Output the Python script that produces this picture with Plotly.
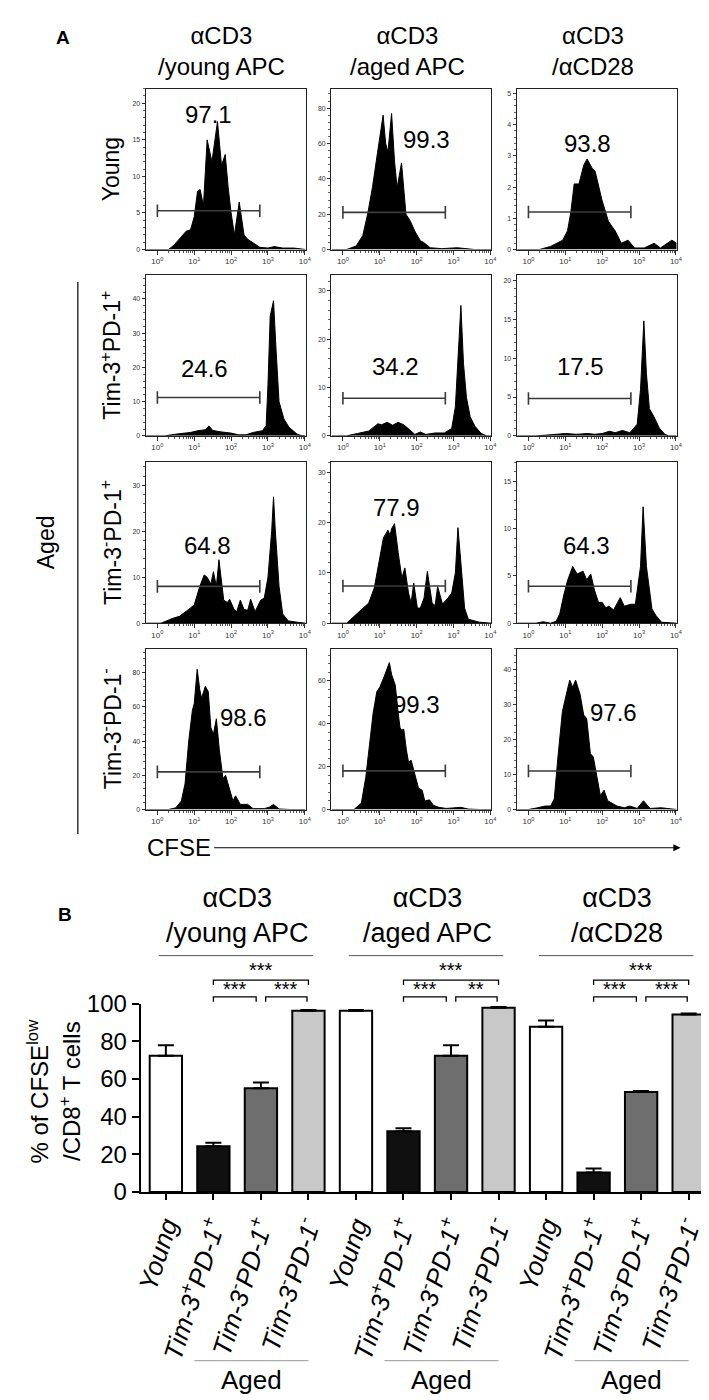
import plotly.graph_objects as go

W, H = 709, 1400
FONT = "Liberation Sans, Arial, sans-serif"


def px(x):
    return x / W


def py(y):
    return 1 - y / H


# ---------------- Panel A data ----------------
col_titles = ["αCD3<br>/young APC", "αCD3<br>/aged APC", "αCD3<br>/αCD28"]
row_titles = ["Young", "Tim-3<sup>+</sup>PD-1<sup>+</sup>",
              "Tim-3<sup>-</sup>PD-1<sup>+</sup>", "Tim-3<sup>-</sup>PD-1<sup>-</sup>"]

# log10(CFSE) positions and counts of each histogram (row, column)
h11_logx = [-0.3, 0.3, 0.45, 0.6, 0.78, 0.9, 1.0, 1.09, 1.16, 1.25, 1.35, 1.48, 1.63, 1.74, 1.84, 1.92,
            2.0, 2.09, 2.22, 2.35, 2.45, 2.57, 2.78, 3.0, 3.17, 3.4, 3.7, 4.02]
h11_count = [0, 0, 0.6, 1.5, 2.5, 2.7, 4.5, 8.0, 8.2, 6.0, 15.0, 12.0, 17.5, 11.5, 13.0, 8.5,
             5.0, 2.0, 6.5, 2.0, 1.4, 1.0, 0.3, 0.2, 0.4, 0.2, 0.2, 0]
h12_logx = [-0.3, 0.1, 0.36, 0.54, 0.67, 0.8, 0.94, 1.09, 1.16, 1.22, 1.32, 1.40, 1.47, 1.59, 1.71, 1.83,
            1.96, 2.1, 2.19, 2.37, 2.68, 3.1, 3.57, 4.02]
h12_count = [0, 0, 2, 8, 20, 35, 55, 76, 60, 55, 77, 50, 35, 49, 20, 16, 10, 5, 4, 1, 0.5, 1, 0, 0]
h13_logx = [-0.3, 0.3, 0.6, 0.93, 1.06, 1.15, 1.24, 1.37, 1.5, 1.59, 1.73, 1.81, 1.99, 2.17, 2.35, 2.52,
            2.7, 2.88, 3.14, 3.41, 3.58, 3.89, 4.02]
h13_count = [0, 0, 0.1, 0.3, 0.6, 1.2, 2.1, 2.1, 2.7, 2.9, 2.6, 2.5, 1.6, 0.9, 0.6, 0.2, 0.3, 0.05,
             0.05, 0.2, 0.05, 0.3, 0.2]

h21_logx = [-0.3, 0.2, 0.5, 0.9, 1.1, 1.3, 1.4, 1.5, 1.7, 2.0, 2.2, 2.4, 2.6, 2.85, 2.95, 3.0, 3.06, 3.15,
            3.22, 3.3, 3.43, 3.57, 3.79, 3.9, 4.02]
h21_count = [0, 0, 0.5, 1.0, 1.5, 1.8, 2.9, 1.6, 1.2, 0.8, 0.3, 0.3, 1.0, 1.5, 3.0, 15, 35, 39.5,
             25, 10, 5, 2.5, 0.5, 0.1, 0]
h22_logx = [-0.3, 0.1, 0.4, 0.7, 0.95, 1.05, 1.2, 1.35, 1.5, 1.65, 1.85, 1.95, 2.1, 2.25, 2.5, 2.75,
            2.95, 3.05, 3.15, 3.2, 3.27, 3.35, 3.45, 3.58, 3.75, 3.9, 4.02]
h22_count = [0, 0, 0.5, 1.0, 2.5, 2.3, 2.8, 2.2, 2.8, 2.3, 1.0, 0.3, 0.8, 0.3, 0.6, 0.6,
             1.5, 6, 20, 27, 15, 8, 4, 2, 0.5, 0, 0]
h23_logx = [-0.3, 0.2, 0.5, 1.0, 1.3, 1.6, 1.8, 2.0, 2.2, 2.35, 2.55, 2.75, 2.95, 3.04, 3.13, 3.2,
            3.28, 3.4, 3.55, 3.7, 3.8, 4.02]
h23_count = [0, 0, 0.1, 0.3, 0.2, 0.3, 0.2, 0.3, 0.6, 0.4, 0.7, 0.4, 1.5, 6, 14.8, 8,
             3.5, 2.5, 1, 0.2, 0, 0]

h31_logx = [-0.3, 0.1, 0.4, 0.6, 0.85, 1.0, 1.15, 1.27, 1.35, 1.45, 1.52, 1.6, 1.67, 1.8, 1.9, 1.96,
            2.08, 2.15, 2.25, 2.35, 2.45, 2.53, 2.65, 2.8, 2.9, 3.0, 3.1, 3.15, 3.2, 3.3, 3.4, 3.55, 3.8, 4.02]
h31_count = [0, 0, 1, 1.5, 3, 4, 8, 10.5, 10, 8.5, 11.2, 8, 13.8, 5, 4.5, 5.2,
             3, 2.5, 5, 3, 2.8, 5.2, 2.5, 5, 5.5, 10, 20, 27.5, 20, 8, 2, 0.5, 0.2, 0]
h32_logx = [-0.3, 0.1, 0.4, 0.7, 0.85, 0.95, 1.1, 1.22, 1.28, 1.32, 1.4, 1.5, 1.6, 1.68, 1.78, 1.85,
            1.92, 2.02, 2.1, 2.2, 2.29, 2.42, 2.5, 2.57, 2.7, 2.85, 2.95, 3.05, 3.12, 3.2, 3.3, 3.4, 3.7, 4.02]
h32_count = [0, 0, 2, 4, 7, 11, 17, 18.5, 17.5, 18.8, 19.8, 14, 9, 11, 6, 4,
             8, 3, 3, 5, 10.3, 4, 3.5, 7.3, 3.8, 5, 6, 10, 19, 12, 3, 0.8, 0.2, 0]
h33_logx = [-0.3, 0.2, 0.4, 0.6, 0.75, 0.85, 0.96, 1.06, 1.2, 1.32, 1.48, 1.58, 1.69, 1.79, 1.9, 2.0,
            2.1, 2.18, 2.31, 2.49, 2.6, 2.78, 2.9, 3.04, 3.11, 3.2, 3.35, 3.46, 3.61, 4.02]
h33_count = [0, 0, 0.15, 0, 0.2, 1, 3, 4.5, 6, 5.2, 5.5, 4.6, 5.2, 3.5, 2.2, 2.2,
             1.6, 1.8, 1.4, 2.7, 1.8, 2, 2, 6, 12.3, 6, 1.5, 0.8, 0.1, 0]

h41_logx = [-0.3, 0.3, 0.5, 0.65, 0.75, 0.85, 0.95, 1.0, 1.08, 1.15, 1.2, 1.3, 1.38, 1.45, 1.52, 1.6,
            1.68, 1.78, 1.85, 1.95, 2.05, 2.12, 2.25, 2.45, 2.6, 2.9, 3.05, 3.15, 3.3, 3.6, 4.02]
h41_count = [0, 0, 1, 5, 15, 40, 58, 62, 82, 70, 65, 72, 69, 48, 44, 53,
             35, 18, 20, 12, 5, 8, 3, 3, 0.5, 0.5, 1.5, 3, 0.3, 0, 0]
h42_logx = [-0.3, 0.3, 0.5, 0.62, 0.72, 0.82, 0.92, 1.0, 1.12, 1.2, 1.26, 1.32, 1.42, 1.5, 1.55, 1.6,
            1.65, 1.72, 1.78, 1.85, 1.95, 2.05, 2.15, 2.22, 2.35, 2.45, 2.6, 2.8, 3.2, 3.4, 3.7, 4.02]
h42_count = [0, 0, 3, 15, 30, 45, 55, 57, 62, 66, 68.5, 63, 58, 45, 38, 37,
             37.5, 28, 22, 23, 17, 10, 9, 4, 4.5, 2, 1, 0.5, 1, 0.2, 0, 0]
h43_logx = [-0.3, 0.0, 0.25, 0.45, 0.6, 0.7, 0.8, 0.92, 1.05, 1.12, 1.2, 1.28, 1.4, 1.5, 1.58, 1.68,
            1.76, 1.85, 1.95, 2.05, 2.15, 2.4, 2.6, 2.75, 2.95, 3.12, 3.3, 3.6, 3.85, 4.02]
h43_count = [0, 0, 0.5, 1, 1, 3, 15, 28, 34, 37, 35, 37, 33, 27, 26, 16,
             15, 10, 4, 5.5, 2.5, 1, 0.5, 1, 0.3, 2.5, 0.3, 0.5, 0.3, 0]

hist_logx = [[h11_logx, h12_logx, h13_logx], [h21_logx, h22_logx, h23_logx],
             [h31_logx, h32_logx, h33_logx], [h41_logx, h42_logx, h43_logx]]
hist_count = [[h11_count, h12_count, h13_count], [h21_count, h22_count, h23_count],
              [h31_count, h32_count, h33_count], [h41_count, h42_count, h43_count]]

gate_pct = [["97.1", "99.3", "93.8"], ["24.6", "34.2", "17.5"],
            ["64.8", "77.9", "64.3"], ["98.6", "99.3", "97.6"]]
gate_level = [[5.3, 21, 1.2], [11.2, 7.8, 4.8], [8.0, 7.4, 3.9], [22, 18, 11]]
gate_bounds = [1, 600]
pct_logx = [[1.4, 2.28, 1.59], [1.27, 1.43, 1.41], [1.35, 1.44, 1.58], [2.34, 2.0, 2.32]]
pct_y = [[18.5, 62, 3.4], [19.7, 14.3, 8.9], [16.8, 23, 8.2], [54, 49, 27.7]]
y_max = [[22, 91, 5.15], [47, 33.3, 20.7], [35, 32, 17], [94, 75, 46]]
y_dtick = [[5, 20, 1], [10, 10, 5], [10, 10, 5], [20, 20, 10]]
x_tickvals = [1, 10, 100, 1000, 10000]
x_ticktext = ["10<sup>0</sup>", "10<sup>1</sup>", "10<sup>2</sup>", "10<sup>3</sup>", "10<sup>4</sup>"]
x_minor = [m * 10 ** d for d in range(4) for m in range(2, 10)]

# ---------------- Panel B data ----------------
bar_titles = ["αCD3<br>/young APC", "αCD3<br>/aged APC", "αCD3<br>/αCD28"]
bar_labels = ["Young", "Tim-3<sup>+</sup>PD-1<sup>+</sup>", "Tim-3<sup>-</sup>PD-1<sup>+</sup>",
              "Tim-3<sup>-</sup>PD-1<sup>-</sup>"] * 3
bar_values = [72.3, 24.3, 55.1, 96.2, 96.2, 32.2, 72.4, 97.9, 87.7, 10.3, 53.1, 94.2]
bar_err = [5.6, 1.9, 3.1, 0.5, 0.5, 1.7, 5.5, 0.4, 3.4, 2.2, 0.5, 0.6]
bar_colors = ["#ffffff", "#101010", "#6e6e6e", "#c8c8c8"] * 3
sig_pairs = [(1, 3, "***", "top"), (1, 2, "***", "low"), (2, 3, "***", "low"),
             (5, 7, "***", "top"), (5, 6, "***", "low"), (6, 7, "**", "low"),
             (9, 11, "***", "top"), (9, 10, "***", "low"), (10, 11, "***", "low")]

# ---------------- layout geometry (pixels) ----------------
col_left = [132, 321, 510]
col_w = 163
row_top = [68, 258, 449, 639]
row_h = 164

fig = go.Figure()
layout = {}
annotations = []
shapes = []


def note(x, y, text, size, xref="paper", yref="paper", angle=0):
    annotations.append(dict(x=x, y=y, xref=xref, yref=yref, text=text, textangle=angle,
                            showarrow=False, xanchor="center", yanchor="middle",
                            font=dict(size=size, family=FONT, color="black")))


k = 0
for r in range(4):
    for c in range(3):
        k += 1
        xa = "x" if k == 1 else f"x{k}"
        ya = "y" if k == 1 else f"y{k}"
        xk = "xaxis" if k == 1 else f"xaxis{k}"
        yk = "yaxis" if k == 1 else f"yaxis{k}"
        fig.add_trace(go.Scatter(
            x=[10 ** v for v in hist_logx[r][c]], y=hist_count[r][c],
            mode="lines", fill="tozeroy", fillcolor="black",
            line=dict(color="black", width=1), xaxis=xa, yaxis=ya,
            showlegend=False, hoverinfo="skip"))
        g = gate_level[r][c]
        fig.add_trace(go.Scatter(
            x=gate_bounds, y=[g, g], mode="lines+markers",
            line=dict(color="#3a3a3a", width=1.6),
            marker=dict(symbol="line-ns", size=9, line=dict(color="#3a3a3a", width=1.6)),
            xaxis=xa, yaxis=ya, showlegend=False, hoverinfo="skip"))
        x0 = col_left[c]
        y0 = row_top[r]
        layout[xk] = dict(
            domain=[px(x0), px(x0 + col_w)], anchor=ya, type="log", range=[-0.32, 4.02],
            tickmode="array", tickvals=x_tickvals, ticktext=x_ticktext,
            ticks="outside", ticklen=4, tickwidth=1, tickcolor="#333",
            minor=dict(tickmode="array", tickvals=x_minor, ticks="outside", ticklen=2,
                       tickcolor="#555", tickwidth=1),
            showline=True, mirror=True, linecolor="#222", linewidth=1,
            showgrid=False, zeroline=False,
            tickfont=dict(size=8, color="#333", family=FONT))
        layout[yk] = dict(
            domain=[py(y0 + row_h), py(y0)], anchor=xa, range=[0, y_max[r][c]],
            dtick=y_dtick[r][c], ticks="outside", ticklen=3, tickwidth=1, tickcolor="#333",
            minor=dict(dtick=y_dtick[r][c] / 5, ticks="outside", ticklen=2,
                       tickcolor="#666", tickwidth=1),
            showline=True, mirror=True, linecolor="#222", linewidth=1,
            showgrid=False, zeroline=False,
            tickfont=dict(size=7, color="#333", family=FONT))
        note(pct_logx[r][c], pct_y[r][c], gate_pct[r][c], 24, xref=xa, yref=ya)

# Panel A labels
note(px(48), py(16), "<b>A</b>", 19)
for c in range(3):
    note(px(col_left[c] + col_w / 2 - 4), py(30), col_titles[c], 24)
for r in range(4):
    note(px(97), py(row_top[r] + row_h / 2), row_titles[r], 23, angle=-90)
note(px(30), py(530), "Aged", 23, angle=-90)
shapes.append(dict(type="line", xref="paper", yref="paper", x0=px(63), x1=px(63), y0=py(265), y1=py(828),
                   line=dict(color="black", width=1.2)))
note(px(166), py(842), "CFSE", 24)
annotations.append(dict(x=px(677), y=py(842), ax=-(677 - 209), ay=0, xref="paper", yref="paper",
                        text="", showarrow=True, arrowhead=2,
                        arrowsize=1.2, arrowwidth=1.2, arrowcolor="black"))

# ---------------- Panel B ----------------
bx = [float(i) for i in range(len(bar_values))]
fig.add_trace(go.Bar(
    x=bx, y=bar_values, width=0.68, marker=dict(color=bar_colors, line=dict(color="black", width=2)),
    error_y=dict(type="data", symmetric=False, array=bar_err, arrayminus=[0] * len(bar_err),
                 color="black", thickness=2, width=8),
    xaxis="x13", yaxis="y13", showlegend=False, hoverinfo="skip"))

bar_top, bar_bottom = 1001, 1193
layout["xaxis13"] = dict(
    domain=[px(127), px(707)], anchor="y13", range=[-0.53, 11.45],
    tickmode="array", tickvals=bx, ticktext=[f"<i>{t}</i>" for t in bar_labels],
    tickangle=-72, ticks="outside", ticklen=6, tickwidth=2, tickcolor="black",
    showline=True, linecolor="black", linewidth=2, showgrid=False, zeroline=False,
    tickfont=dict(size=26, family=FONT, color="black"))
layout["yaxis13"] = dict(
    domain=[py(bar_bottom), py(bar_top)], anchor="x13", range=[0, 100], dtick=20,
    ticks="outside", ticklen=7, tickwidth=2, tickcolor="black",
    showline=True, linecolor="black", linewidth=2, showgrid=False, zeroline=False,
    tickfont=dict(size=24, family=FONT, color="black"))

note(px(50), py(910), "<b>B</b>", 19)
for gi in range(3):
    note(4 * gi + 1.5, py(911), bar_titles[gi], 27, xref="x13")
    shapes.append(dict(type="line", xref="x13", yref="paper", x0=4 * gi - 0.15, x1=4 * gi + 3.1,
                       y0=py(952), y1=py(952), line=dict(color="#555", width=1)))
    shapes.append(dict(type="line", xref="x13", yref="paper", x0=4 * gi + 0.6, x1=4 * gi + 3.0,
                       y0=py(1365), y1=py(1365), line=dict(color="#999", width=1)))
    note(4 * gi + 1.8, py(1385), "Aged", 26, xref="x13")

for a, b, star, lvl in sig_pairs:
    if lvl == "top":
        yl, ys, xa0, xb0 = 977, 967, a, b
    else:
        yl, ys = 994, 986
        xa0 = a if a % 4 == 1 else a + 0.1
        xb0 = b - 0.1 if a % 4 == 1 else b - 0.03
    shapes.append(dict(type="path", xref="x13", yref="paper",
                       path=f"M {xa0},{py(yl + 5)} L {xa0},{py(yl)} L {xb0},{py(yl)} L {xb0},{py(yl + 5)}",
                       line=dict(color="black", width=1.3)))
    note((xa0 + xb0) / 2, py(ys), star, 20, xref="x13")

note(px(22), py(1090), "% of CFSE<sup>low</sup>", 24, angle=-90)
note(px(55), py(1090), "/CD8<sup>+</sup> T cells", 24, angle=-90)

fig.update_layout(
    width=W, height=H, margin=dict(l=0, r=0, t=0, b=0),
    paper_bgcolor="white", plot_bgcolor="white",
    font=dict(family=FONT, color="black"),
    annotations=annotations, shapes=shapes, bargap=0.3, **layout)

fig.write_html("out.html")
